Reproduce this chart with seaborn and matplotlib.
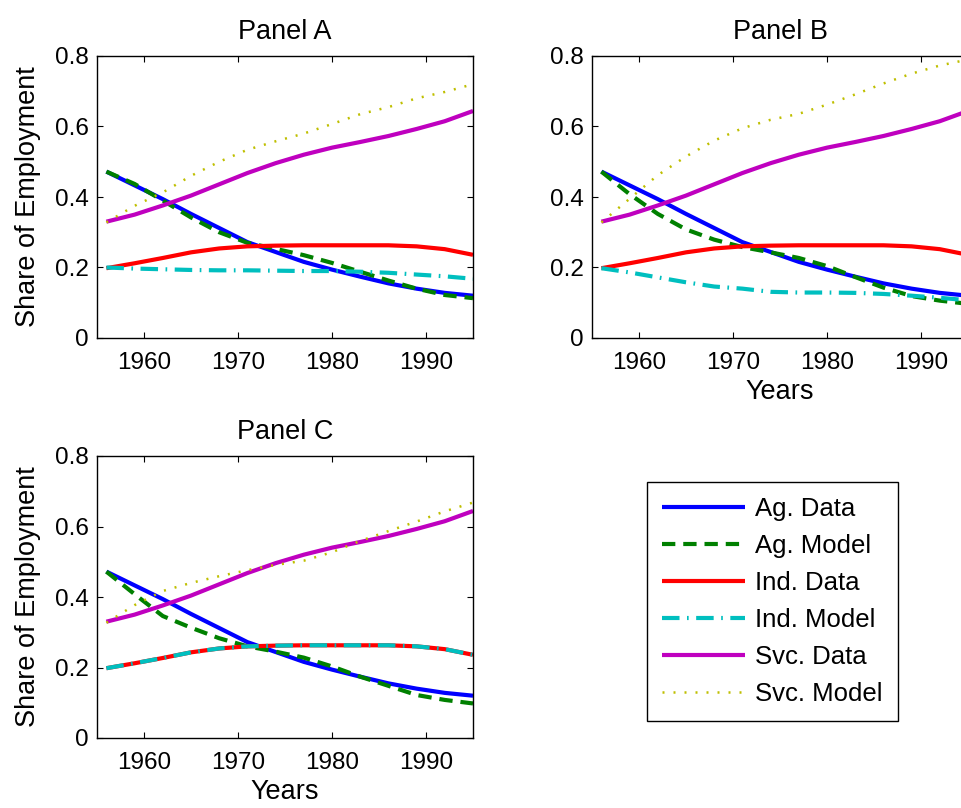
import numpy as np
import pandas as pd
import matplotlib
matplotlib.use("Agg")
import matplotlib.pyplot as plt
import seaborn as sns

# %% data (shares of employment, every 3 years)
years = [1956, 1959, 1962, 1965, 1968, 1971, 1974, 1977, 1980, 1983, 1986, 1989, 1992, 1995]

ag_data = [0.472, 0.433, 0.394, 0.352, 0.312, 0.272, 0.244, 0.216, 0.194, 0.174, 0.155, 0.140, 0.128, 0.120]
ind_data = [0.198, 0.212, 0.227, 0.243, 0.254, 0.260, 0.262, 0.263, 0.263, 0.263, 0.263, 0.260, 0.252, 0.236]
svc_data = [0.330, 0.350, 0.376, 0.404, 0.436, 0.468, 0.496, 0.520, 0.540, 0.556, 0.573, 0.593, 0.615, 0.644]

# Panel A model
ag_model_a = [0.472, 0.437, 0.390, 0.342, 0.300, 0.270, 0.253, 0.235, 0.213, 0.188, 0.163, 0.140, 0.122, 0.113]
ind_model_a = [0.200, 0.197, 0.195, 0.193, 0.192, 0.192, 0.191, 0.190, 0.190, 0.188, 0.185, 0.180, 0.175, 0.168]
svc_model_a = [0.328, 0.375, 0.413, 0.460, 0.500, 0.534, 0.558, 0.580, 0.607, 0.635, 0.655, 0.680, 0.698, 0.720]

# Panel B model
ag_model_b = [0.472, 0.408, 0.352, 0.308, 0.279, 0.258, 0.243, 0.227, 0.204, 0.173, 0.143, 0.119, 0.106, 0.097]
ind_model_b = [0.198, 0.186, 0.172, 0.158, 0.146, 0.140, 0.131, 0.129, 0.129, 0.128, 0.125, 0.120, 0.114, 0.107]
svc_model_b = [0.328, 0.395, 0.462, 0.515, 0.560, 0.595, 0.619, 0.636, 0.662, 0.691, 0.722, 0.750, 0.773, 0.790]

# Panel C model
ag_model_c = [0.472, 0.408, 0.346, 0.313, 0.283, 0.260, 0.245, 0.228, 0.203, 0.174, 0.148, 0.122, 0.108, 0.098]
ind_model_c = [0.198, 0.212, 0.227, 0.243, 0.254, 0.260, 0.262, 0.263, 0.263, 0.263, 0.263, 0.260, 0.252, 0.236]
svc_model_c = [0.327, 0.377, 0.417, 0.440, 0.459, 0.476, 0.491, 0.503, 0.527, 0.559, 0.587, 0.614, 0.643, 0.668]

labels = ["Ag. Data", "Ag. Model", "Ind. Data", "Ind. Model", "Svc. Data", "Svc. Model"]
colors = [(0, 0, 1), (0, 0.5, 0), (1, 0, 0), (0, 0.75, 0.75), (0.75, 0, 0.75), (0.75, 0.75, 0)]
widths = [3, 3, 3, 3, 3, 1.8]
dashes = [None, (3.2, 1.9), None, (4.2, 1.8, 0.4, 1.8), None, (0.8, 3.6)]

panels = {
    "Panel A": [ag_data, ag_model_a, ind_data, ind_model_a, svc_data, svc_model_a],
    "Panel B": [ag_data, ag_model_b, ind_data, ind_model_b, svc_data, svc_model_b],
    "Panel C": [ag_data, ag_model_c, ind_data, ind_model_c, svc_data, svc_model_c],
}

# %% style
sns.set_style("ticks")
plt.rcParams["font.family"] = ["Liberation Sans", "DejaVu Sans"]
plt.rcParams["text.color"] = "black"
plt.rcParams["axes.labelcolor"] = "black"
plt.rcParams["xtick.direction"] = "in"
plt.rcParams["ytick.direction"] = "in"

W, H = 961, 808
fig = plt.figure(figsize=(W / 100, H / 100), dpi=100)

# axes rectangles in pixels: left, top, width, height
rects = {"Panel A": (97, 56, 376, 282),
         "Panel B": (592, 56, 376, 282),
         "Panel C": (97, 456, 376, 282)}

for name, series in panels.items():
    l, t, w, h = rects[name]
    ax = fig.add_axes([l / W, 1 - (t + h) / H, w / W, h / H])

    for vals, lab, c, lw, d in zip(series, labels, colors, widths, dashes):
        df = pd.DataFrame({"year": years, "share": vals})
        sns.lineplot(data=df, x="year", y="share", ax=ax, color=c,
                     linewidth=lw, legend=False, label=lab)
        line = ax.lines[-1]
        line.set_solid_capstyle("butt")
        if d is not None:
            line.set_dashes(d)

    if ax.get_legend() is not None:
        ax.get_legend().remove()

    ax.set_xlim(1955, 1995)
    ax.set_ylim(0, 0.8)
    ax.set_xticks([1960, 1970, 1980, 1990])
    ax.set_yticks([0, 0.2, 0.4, 0.6, 0.8])
    ax.set_yticklabels(["0", "0.2", "0.4", "0.6", "0.8"])
    ax.tick_params(top=True, right=True, length=4, width=0.8,
                   labelsize=17.5, colors="black")
    ax.tick_params(axis="x", pad=10)
    ax.tick_params(axis="y", pad=6)
    for s in ax.spines.values():
        s.set_visible(True)
        s.set_linewidth(1.0)
        s.set_color("black")

    ax.set_title(name, fontsize=19.5, pad=12)
    if name == "Panel B":
        ax.set_ylabel("")
    else:
        ax.set_ylabel("Share of Employment", fontsize=19.5, labelpad=10)
    if name == "Panel A":
        ax.set_xlabel("")
    else:
        ax.set_xlabel("Years", fontsize=19.5, labelpad=4)

    handles = ax.lines[:6]

# legend in the empty fourth slot
leg = fig.legend(handles, labels, loc="upper left",
                 bbox_to_anchor=(647 / W, 1 - 482 / H),
                 fontsize=18.5, frameon=True, fancybox=False, framealpha=1,
                 edgecolor="black", handlelength=3.2, handletextpad=0.4,
                 labelspacing=0.5, borderpad=0.6, borderaxespad=0)
leg.get_frame().set_linewidth(1.0)

plt.savefig("out.png", dpi=100)
